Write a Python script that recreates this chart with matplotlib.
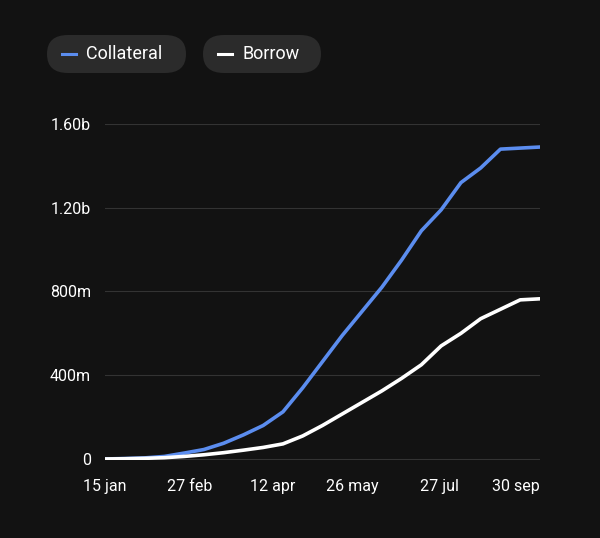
import matplotlib
matplotlib.use("Agg")
import matplotlib.pyplot as plt
from matplotlib.patches import FancyBboxPatch
from matplotlib.lines import Line2D

plt.rcParams["font.family"] = ["Roboto", "DejaVu Sans"]

# Weekly snapshots, values in billions
collateral = [0, 0.002, 0.005, 0.012, 0.028, 0.045, 0.075, 0.115, 0.160, 0.225, 0.340,
              0.465, 0.590, 0.705, 0.820, 0.950, 1.090, 1.190, 1.320, 1.390, 1.480, 1.485, 1.490]
borrow = [0, 0.001, 0.003, 0.006, 0.012, 0.020, 0.030, 0.042, 0.055, 0.072, 0.110,
          0.160, 0.215, 0.270, 0.325, 0.385, 0.450, 0.540, 0.600, 0.670, 0.715, 0.760, 0.765]
tick_pos = [0, 4.3, 8.5, 12.5, 16.9, 20.8]
tick_labels = ["15 jan", "27 feb", "12 apr", "26 may", "27 jul", "30 sep"]
y_ticks = [0, 0.4, 0.8, 1.2, 1.6]
y_labels = ["0", "400m", "800m", "1.20b", "1.60b"]

BG = "#121212"
BLUE = "#5b8def"

fig = plt.figure(figsize=(6, 5.38), dpi=100, facecolor=BG)
ax = fig.add_axes([105 / 600, 1 - 460 / 538, 435 / 600, (460 - 124) / 538])
ax.set_facecolor(BG)

x = list(range(len(collateral)))
ax.plot(x, collateral, color=BLUE, lw=2.6, solid_capstyle="round")
ax.plot(x, borrow, color="white", lw=2.6, solid_capstyle="round")

ax.set_xlim(0, len(x) - 1)
ax.set_ylim(-0.005, 1.6)
ax.set_yticks(y_ticks, y_labels)
ax.set_xticks(tick_pos, tick_labels)
ax.tick_params(colors="white", labelsize=11.5, length=0, pad=10)
ax.tick_params(axis="x", pad=14)
ax.grid(axis="y", color="#333333", lw=0.8)
for s in ax.spines.values():
    s.set_visible(False)

# Legend pills
def pill(x0, x1, color, label):
    y0, y1 = 1 - 73 / 538, 1 - 35 / 538
    fig.patches.append(FancyBboxPatch(
        (x0 / 600, y0), (x1 - x0) / 600, y1 - y0,
        boxstyle="round,pad=0,rounding_size=0.035", transform=fig.transFigure,
        facecolor="#2b2b2b", edgecolor="none"))
    ym = (y0 + y1) / 2
    fig.lines.append(Line2D([(x0 + 15) / 600, (x0 + 29) / 600], [ym, ym],
                            color=color, lw=2.2, transform=fig.transFigure))
    fig.text((x0 + 39) / 600, ym, label, color="white", fontsize=13,
             va="center", ha="left")

pill(47, 186, BLUE, "Collateral")
pill(203, 321, "white", "Borrow")

fig.savefig("out.png", dpi=100, facecolor=BG)
